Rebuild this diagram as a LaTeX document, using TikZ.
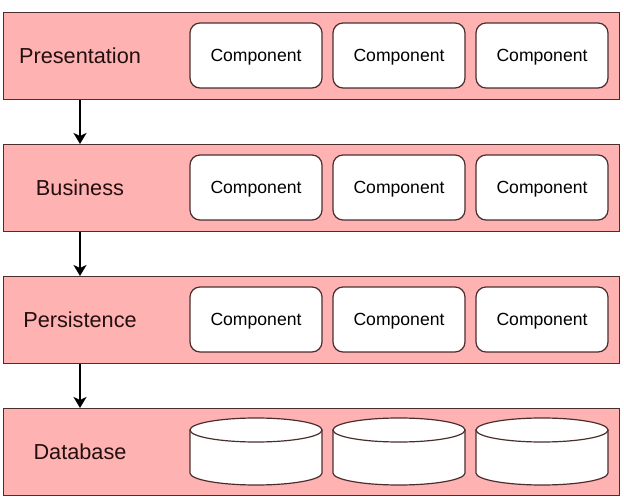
\documentclass[tikz,border=0pt]{standalone}
\usepackage{fontspec}
\setmainfont{Liberation Sans}
\usetikzlibrary{arrows.meta}
\definecolor{bandfill}{RGB}{255,178,178}
\definecolor{bandline}{RGB}{75,45,45}
\definecolor{txt}{RGB}{35,15,15}
\begin{document}
\begin{tikzpicture}[x=1pt,y=-1pt,
  band/.style={draw=bandline, line width=1.2pt, fill=bandfill, minimum width=616pt, minimum height=87pt, inner sep=0pt, anchor=north west},
  layerlabel/.style={text=txt, font=\fontsize{21.7}{26}\selectfont, inner sep=0pt, text depth=0pt},
  comp/.style={draw=bandline, line width=1.2pt, fill=white, rounded corners=10pt, minimum width=132pt, minimum height=65pt, inner sep=0pt, text depth=0pt, text=black, font=\fontsize{17.6}{21}\selectfont},
  cyl/.style={draw=bandline, line width=1.2pt, fill=white},
  arr/.style={line width=2pt, -{Stealth[length=11pt,width=13pt,inset=3pt]}}
]
\useasboundingbox (0,0) rectangle (624,502);
% layers
\node[band] (pres) at (3,12) {};
\node[band] (bus)  at (3,144) {};
\node[band] (pers) at (3,276) {};
\node[band] (db)   at (3,408) {};
% labels
\node[layerlabel] (presL) at (80,55.5) {Presentation};
\node[layerlabel] (busL)  at (80,187.5) {Business};
\node[layerlabel] (persL) at (80,319.5) {Persistence};
\node[layerlabel] (dbL)   at (80,451.5) {Database};
% components
\foreach \row/\y in {p/55.5,b/187.5,s/319.5}{
  \node[comp] (\row1) at (256,\y) {Component};
  \node[comp] (\row2) at (399,\y) {Component};
  \node[comp] (\row3) at (542,\y) {Component};
}
% cylinders
\foreach \x in {190,333,476}{
  \draw[cyl] (\x,430) -- (\x,473) arc[start angle=180,end angle=0,x radius=66,y radius=12] -- (\x+132,430) -- cycle;
  \draw[cyl] (\x+66,430) ellipse[x radius=66,y radius=12];
}
% arrows
\draw[arr] (pres.south -| presL) -- (bus.north -| presL);
\draw[arr] (bus.south -| presL) -- (pers.north -| presL);
\draw[arr] (pers.south -| presL) -- (db.north -| presL);
\end{tikzpicture}
\end{document}
